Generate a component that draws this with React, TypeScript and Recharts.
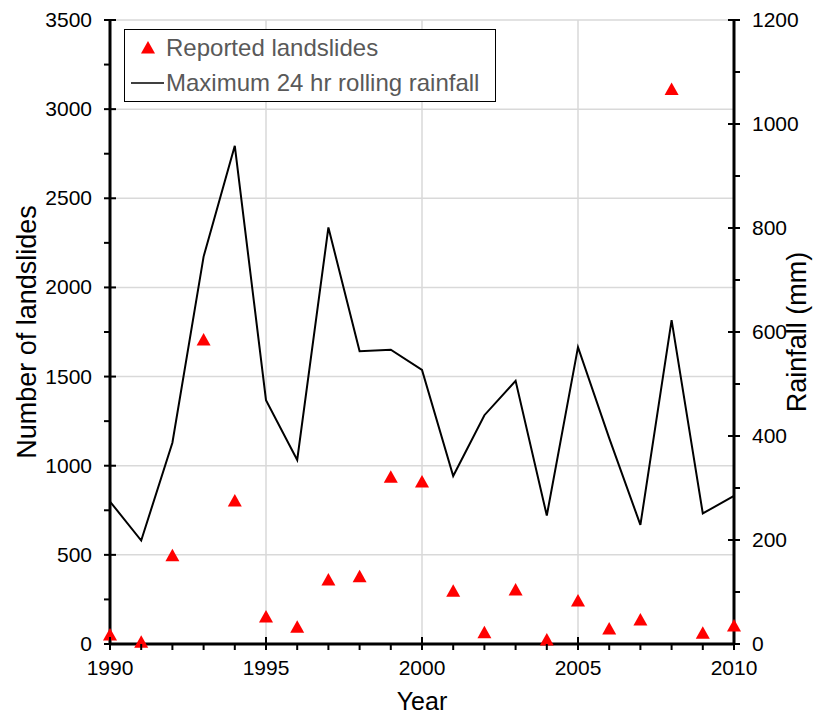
import React from "react"
import {
  ComposedChart,
  Line,
  Scatter,
  XAxis,
  YAxis,
  CartesianGrid,
  Legend,
} from "recharts"

const years = [
  1990, 1991, 1992, 1993, 1994, 1995, 1996, 1997, 1998, 1999, 2000, 2001, 2002,
  2003, 2004, 2005, 2006, 2007, 2008, 2009, 2010,
]
const landslides = [
  50, 10, 495, 1705, 802, 152, 94, 359, 377, 935, 908, 296, 63, 303, 22, 241,
  84, 135, 3110, 60, 101,
]
const rainfall = [
  274, 199, 387, 745, 958, 469, 354, 801, 563, 566, 527, 323, 440, 506, 247,
  571, 396, 229, 623, 251, 285,
]

const xTicks = years
const leftTicks = [0, 250, 500, 750, 1000, 1250, 1500, 1750, 2000, 2250, 2500, 2750, 3000, 3250, 3500]
const rightTicks = [0, 100, 200, 300, 400, 500, 600, 700, 800, 900, 1000, 1100, 1200]
const gridYears = [1995, 2000, 2005]
const gridLeft = [500, 1000, 1500, 2000, 2500, 3000, 3500]

const data = years.map((y, i) => ({
  year: y,
  landslides: landslides[i],
  rainfall: rainfall[i],
}))

const font = "'Liberation Sans', Arial, sans-serif"

const XTick = (props: any) => {
  const { x, y, payload } = props
  const major = payload.value % 5 === 0
  return (
    <g>
      <line x1={x} x2={x} y1={major ? y - 7 : y} y2={y + 6} stroke="#000" strokeWidth={2} />
      {major && (
        <text x={x} y={y + 31} textAnchor="middle" fontSize={21} fontFamily={font} fill="#000">
          {payload.value}
        </text>
      )}
    </g>
  )
}

const LeftTick = (props: any) => {
  const { x, y, payload } = props
  const major = payload.value % 500 === 0
  return (
    <g>
      <line x1={x - 6} x2={major ? x + 6 : x} y1={y} y2={y} stroke="#000" strokeWidth={2} />
      {major && (
        <text x={x - 18} y={y + 7} textAnchor="end" fontSize={21} fontFamily={font} fill="#000">
          {payload.value}
        </text>
      )}
    </g>
  )
}

const RightTick = (props: any) => {
  const { x, y, payload } = props
  const major = payload.value % 200 === 0
  return (
    <g>
      <line x1={major ? x - 6 : x} x2={x + 6} y1={y} y2={y} stroke="#000" strokeWidth={2} />
      {major && (
        <text x={x + 18} y={y + 7} textAnchor="start" fontSize={21} fontFamily={font} fill="#000">
          {payload.value}
        </text>
      )}
    </g>
  )
}

const Triangle = (props: any) => {
  const { cx, cy } = props
  if (cx == null || cy == null) return null
  return <path d={`M${cx},${cy - 7} L${cx + 7},${cy + 5.5} L${cx - 7},${cy + 5.5} Z`} fill="#ff0000" />
}

const axisTitle = (text: string, dx: number) => (props: any) => {
  const vb = props.viewBox
  const cx = vb.x + dx
  const cy = vb.y + vb.height / 2
  return (
    <text
      x={cx}
      y={cy}
      transform={`rotate(-90 ${cx} ${cy})`}
      textAnchor="middle"
      dominantBaseline="central"
      fontSize={27}
      fontFamily={font}
      fill="#000"
    >
      {text}
    </text>
  )
}

const yearTitle = (props: any) => {
  const vb = props.viewBox
  return (
    <text
      x={vb.x + vb.width / 2}
      y={vb.y + 66}
      textAnchor="middle"
      fontSize={25}
      fontFamily={font}
      fill="#000"
    >
      Year
    </text>
  )
}

const LegendBox = () => (
  <div
    style={{
      border: "1.5px solid #000",
      background: "#fff",
      width: 372,
      height: 73,
      boxSizing: "border-box",
      fontFamily: font,
      fontSize: 24,
      color: "#595959",
      paddingTop: 1,
    }}
  >
    <div style={{ display: "flex", alignItems: "center", height: 34 }}>
      <svg width={34} height={20} style={{ marginLeft: 6 }}>
        <path d="M17,3 L24,15.5 L10,15.5 Z" fill="#ff0000" />
      </svg>
      <span style={{ marginLeft: 1 }}>Reported landslides</span>
    </div>
    <div style={{ display: "flex", alignItems: "center", height: 36 }}>
      <svg width={34} height={20} style={{ marginLeft: 6 }}>
        <line x1={0} x2={33} y1={10} y2={10} stroke="#000" strokeWidth={1.5} />
      </svg>
      <span style={{ marginLeft: 1 }}>Maximum 24 hr rolling rainfall</span>
    </div>
  </div>
)

export default function App() {
  return (
    <div style={{ position: "absolute", left: 0, top: 0 }}>
      <ComposedChart
        width={837}
        height={716}
        data={data}
        margin={{ top: 20, right: 0, bottom: 0, left: 0 }}
      >
        <CartesianGrid
          stroke="#d9d9d9"
          strokeWidth={1.5}
          horizontalValues={gridLeft}
          verticalValues={gridYears}
          yAxisId="left"
        />
        <XAxis
          dataKey="year"
          type="number"
          domain={[1990, 2010]}
          ticks={xTicks}
          interval={0}
          tick={<XTick />}
          tickLine={false}
          tickSize={0}
          tickMargin={0}
          axisLine={{ stroke: "#000", strokeWidth: 3 }}
          height={72}
          label={yearTitle}
        />
        <YAxis
          yAxisId="left"
          domain={[0, 3500]}
          ticks={leftTicks}
          interval={0}
          tick={<LeftTick />}
          tickLine={false}
          tickSize={0}
          tickMargin={0}
          axisLine={{ stroke: "#000", strokeWidth: 3 }}
          width={110}
          label={axisTitle("Number of landslides", 27)}
        />
        <YAxis
          yAxisId="right"
          orientation="right"
          domain={[0, 1200]}
          ticks={rightTicks}
          interval={0}
          tick={<RightTick />}
          tickLine={false}
          tickSize={0}
          tickMargin={0}
          axisLine={{ stroke: "#000", strokeWidth: 3 }}
          width={103}
          label={axisTitle("Rainfall (mm)", 63)}
        />
        <Legend
          layout="vertical"
          verticalAlign="middle"
          align="center"
          content={<LegendBox />}
          wrapperStyle={{ top: 29, left: 124, width: 372 }}
        />
        <Line
          yAxisId="right"
          dataKey="rainfall"
          stroke="#000"
          strokeWidth={2}
          dot={false}
          activeDot={false}
          isAnimationActive={false}
        />
        <Scatter
          yAxisId="left"
          dataKey="landslides"
          shape={<Triangle />}
          isAnimationActive={false}
        />
      </ComposedChart>
    </div>
  )
}
